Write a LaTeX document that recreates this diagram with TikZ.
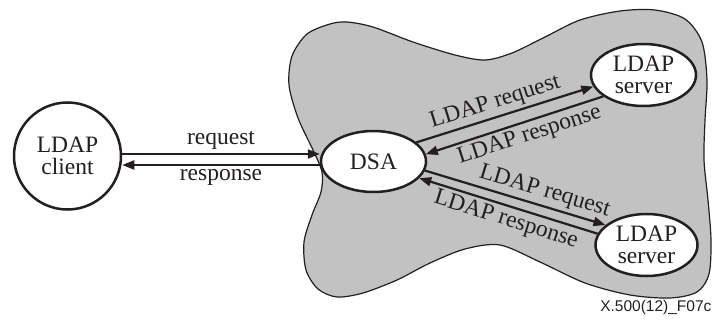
\documentclass[tikz,border=0pt]{standalone}
\usepackage{fontspec}
\setmainfont{Liberation Serif}
\newfontfamily\capfont{Liberation Sans}
\usetikzlibrary{arrows.meta,shapes.geometric,calc}
\definecolor{blobgray}{RGB}{194,194,194}
\definecolor{ink}{RGB}{35,31,32}
\begin{document}
\begin{tikzpicture}[x=1pt,y=-1pt,
  every node/.style={font=\fontsize{23.5}{22}\selectfont, text=ink},
  entity/.style={draw=ink, line width=2.5pt, fill=white, inner sep=0pt, align=center},
  arr/.style={draw=ink, line width=2.2pt, -{Triangle[length=12pt,width=9pt]}},
  rarr/.style={draw=ink, line width=2.2pt, {Triangle[length=12pt,width=9pt]}-},
  lbl/.style={inner sep=3pt}
]
\useasboundingbox (0,0) rectangle (716,324);
\draw[fill=blobgray, draw=ink, line width=1.2pt] plot[smooth cycle, tension=0.5] coordinates {
 (330,24) (347,22) (373,27) (413,42) (455,55) (485,60) (512,53) (545,37) (580,20) (620,11) (655,10) (685,19) (702,42) (707,80) (705,120) (704,160) (708,200) (711,240) (709,274) (697,292) (670,298) (630,295) (585,283) (540,262) (500,245) (465,249) (430,263) (397,280) (363,293) (337,297) (318,289) (306,270) (304,242) (312,215) (321,192) (322,172) (313,150) (298,118) (289,85) (292,56) (307,34)};
\node[entity, circle, minimum size=107pt] (client) at (67.5,156) {LDAP\\client};
\node[entity, ellipse, minimum width=105pt, minimum height=61pt] (dsa) at (373.5,161.5) {DSA};
\node[entity, ellipse, minimum width=105pt, minimum height=62pt] (srvA) at (643.5,75) {LDAP\\server};
\node[entity, ellipse, minimum width=102pt, minimum height=62pt] (srvB) at (646.5,245) {LDAP\\server};
\draw[arr] ([yshift=2pt]client.east) -- node[lbl, above] {request} ([yshift=7.5pt]dsa.west);
\draw[rarr] ([yshift=-9pt]client.east) -- node[lbl, below] {response} ([yshift=-3.5pt]dsa.west);
\draw[arr] (dsa.24) -- node[lbl, above, sloped, pos=0.47] {LDAP request} (srvA.193);
\draw[rarr] (dsa.8) -- node[lbl, below, sloped, pos=0.56] {LDAP response} (srvA.208);
\draw[arr] (dsa.-10) -- node[lbl, above, sloped, pos=0.64] {LDAP request} (srvB.154);
\draw[rarr] (dsa.-20) -- node[lbl, below, sloped, pos=0.51] {LDAP response} (srvB.167);
\node[anchor=base east, font=\capfont\fontsize{15.5}{18}\selectfont] (cap) at (715,311) {X.500(12)\_F07c};
\end{tikzpicture}
\end{document}
